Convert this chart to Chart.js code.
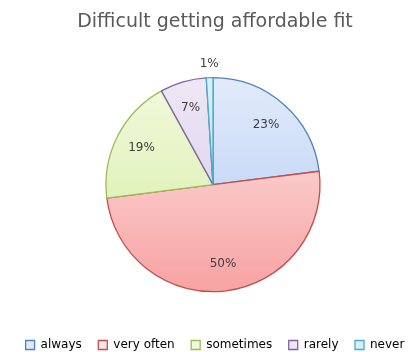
<!DOCTYPE html>
<html>
<head>
<meta charset="utf-8">
<script src="https://cdn.jsdelivr.net/npm/chart.js@4"></script>
<style>
  html, body { margin: 0; padding: 0; background: #fff; overflow: hidden; }
  #wrap { width: 418px; height: 352px; }
</style>
</head>
<body>
<div id="wrap"><canvas id="myChart" width="418" height="352"></canvas></div>
<script>
// data
var categories = ['always', 'very often', 'sometimes', 'rarely', 'never'];
var percents = [23, 50, 19, 7, 1];

// colours (top / bottom of gradient, border)
var topColors = ['#e0eafb', '#fde6e6', '#f1f9dc', '#eee7f5', '#d6f0f8'];
var bottomColors = ['#b3cbf2', '#f8a4a4', '#d5eda3', '#d5c6e8', '#a8dcec'];
var borderColors = ['#4f81bd', '#c0504d', '#9bbb59', '#8064a2', '#4bacc6'];

var FONT = '"DejaVu Sans", sans-serif';

function fillFor(ctx) {
  var chart = ctx.chart;
  var i = ctx.dataIndex;
  var area = chart.chartArea;
  if (!area) return topColors[i];
  var meta = chart.getDatasetMeta(0);
  var arc = meta.data[i];
  var cy = arc && arc.y ? arc.y : (area.top + area.bottom) / 2;
  var r = arc && arc.outerRadius ? arc.outerRadius : 100;
  var g = chart.ctx.createLinearGradient(0, cy - r, 0, cy + r);
  g.addColorStop(0, topColors[i]);
  g.addColorStop(1, bottomColors[i]);
  return g;
}

// パーセント表示
var labelPlugin = {
  id: 'pctLabels',
  afterDatasetsDraw: function(chart) {
    var ctx = chart.ctx;
    var meta = chart.getDatasetMeta(0);
    ctx.save();
    ctx.font = '12px ' + FONT;
    ctx.fillStyle = '#404040';
    ctx.textAlign = 'center';
    ctx.textBaseline = 'middle';
    meta.data.forEach(function(arc, i) {
      var mid = (arc.startAngle + arc.endAngle) / 2;
      var dist = percents[i] < 3 ? arc.outerRadius + 14 : arc.outerRadius * 0.75;
      var x = arc.x + Math.cos(mid) * dist;
      var y = arc.y + Math.sin(mid) * dist;
      ctx.fillText(percents[i] + '%', x, y);
    });
    ctx.restore();
  }
};

var ctx = document.getElementById('myChart').getContext('2d');
var myChart = new Chart(ctx, {
  type: 'pie',
  data: {
    labels: categories,
    datasets: [{
      data: percents,
      backgroundColor: fillFor,
      borderColor: borderColors,
      borderWidth: 1.3
    }]
  },
  options: {
    responsive: false,
    animation: false,
    radius: 107,
    layout: { padding: { top: 0, bottom: -9, left: 8, right: -4 } },
    plugins: {
      title: {
        display: true,
        text: 'Difficult getting affordable fit',
        color: '#595959',
        font: { family: FONT, size: 19, weight: 'normal' },
        padding: { top: 11, bottom: 13 }
      },
      legend: {
        position: 'bottom',
        labels: {
          color: '#595959',
          font: { family: FONT, size: 12 },
          boxWidth: 9,
          boxHeight: 9,
          padding: 16.5,
          generateLabels: function(chart) {
            return categories.map(function(c, i) {
              return {
                text: c,
                fillStyle: topColors[i],
                strokeStyle: borderColors[i],
                lineWidth: 1.3,
                index: i
              };
            });
          }
        }
      },
      tooltip: { enabled: false }
    }
  },
  plugins: [labelPlugin]
});
</script>
</body>
</html>
